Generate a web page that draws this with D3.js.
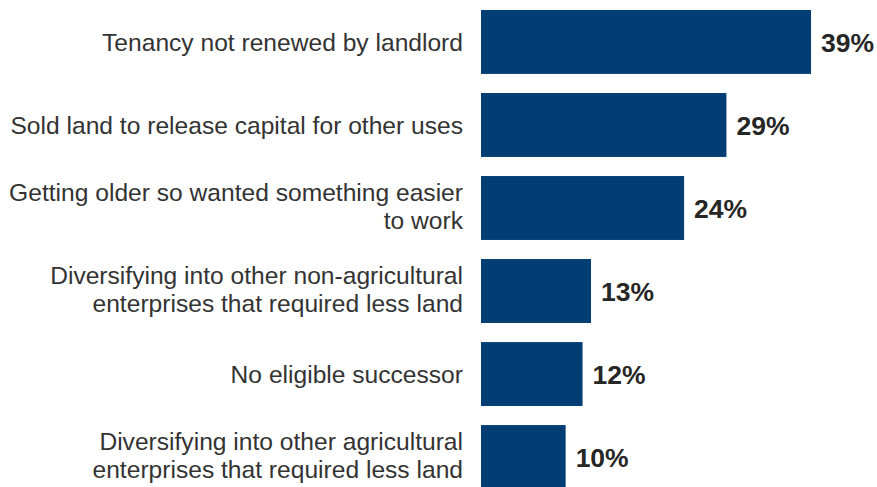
<!DOCTYPE html>
<html>
<head>
<meta charset="utf-8">
<script src="https://cdn.jsdelivr.net/npm/d3@7"></script>
<style>
  html, body { margin: 0; padding: 0; background: #ffffff; }
  svg { display: block; }
</style>
</head>
<body>
<svg id="chart" width="877" height="487"></svg>
<script>
// Reasons for reducing farmed area (share of respondents, %)
const categories = [
  ["Tenancy not renewed by landlord"],
  ["Sold land to release capital for other uses"],
  ["Getting older so wanted something easier", "to work"],
  ["Diversifying into other non-agricultural", "enterprises that required less land"],
  ["No eligible successor"],
  ["Diversifying into other agricultural", "enterprises that required less land"]
];
const values = [39, 29, 24, 13, 12, 10];
const valueLabels = ["39%", "29%", "24%", "13%", "12%", "10%"];

const svg = d3.select("#chart");
const ids = d3.range(categories.length);

const y = d3.scaleBand()
  .domain(ids)
  .range([10, 489])
  .paddingInner(0.23)
  .paddingOuter(0);

const x = d3.scaleLinear()
  .domain([0, 40])
  .range([481, 819.5]);

// bars
svg.append("g")
  .selectAll("rect")
  .data(ids)
  .join("rect")
  .attr("x", x(0))
  .attr("y", i => y(i))
  .attr("width", i => x(values[i]) - x(0))
  .attr("height", y.bandwidth())
  .attr("fill", "#023e73");

// value labels
svg.append("g")
  .selectAll("text")
  .data(ids)
  .join("text")
  .attr("x", i => x(values[i]) + 10)
  .attr("y", i => y(i) + y.bandwidth() / 2)
  .attr("dy", "0.36em")
  .attr("font-family", "Liberation Sans, Arial, sans-serif")
  .attr("font-weight", "bold")
  .attr("font-size", 26.5)
  .attr("fill", "#262626")
  .text(i => valueLabels[i]);

// category labels (right-aligned, one or two lines)
const lineH = 28;
const cat = svg.append("g")
  .selectAll("text")
  .data(ids)
  .join("text")
  .attr("x", 463)
  .attr("text-anchor", "end")
  .attr("font-family", "Liberation Sans, Arial, sans-serif")
  .attr("font-size", 24.6)
  .attr("fill", "#333333");

cat.each(function(i) {
  const lines = categories[i];
  const cy = y(i) + y.bandwidth() / 2;
  const first = cy - (lines.length - 1) * lineH / 2;
  d3.select(this).selectAll("tspan")
    .data(lines)
    .join("tspan")
    .attr("x", 463)
    .attr("y", (d, k) => first + k * lineH)
    .attr("dy", lines.length > 1 ? "0.3em" : "0.38em")
    .text(d => d);
});
</script>
</body>
</html>
